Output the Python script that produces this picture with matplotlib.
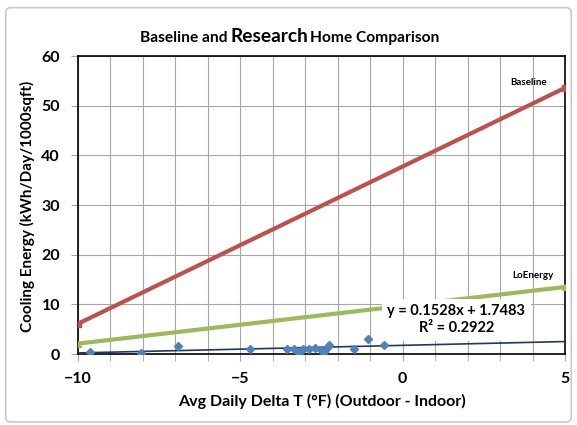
import matplotlib.pyplot as plt
from matplotlib.patches import FancyBboxPatch

plt.rcParams['font.family'] = ['Lato', 'DejaVu Sans']
plt.rcParams['font.weight'] = 'bold'

# measured research-home points
delta_t = [-9.63, -8.07, -6.92, -4.70, -3.57, -3.34, -3.19, -3.06, -2.88,
           -2.70, -2.52, -2.41, -2.34, -2.27, -1.49, -1.06, -0.57]
cooling = [0.4, 0.2, 1.7, 0.95, 1.1, 0.95, 0.15, 1.1, 1.0,
           1.2, 0.8, 0.4, 1.2, 1.8, 1.0, 3.1, 1.8]

# trend lines for the two modelled homes
line_x = [-10, 5]
baseline_y = [6.1, 53.6]
loenergy_y = [2.1, 13.5]

slope, intercept = 0.1528, 1.7483
fit_y = [slope * x + intercept for x in line_x]

fig = plt.figure(figsize=(5.77, 4.25), dpi=100)
ax = fig.add_axes([0.1352, 0.167, 0.844, 0.701])

frame = FancyBboxPatch((0.01, 0.007), 0.98, 0.975, boxstyle="round,pad=0,rounding_size=0.01",
                       transform=fig.transFigure, fill=False, edgecolor="#c8c8c8", linewidth=1.2)
fig.patches.append(frame)

ax.plot(line_x, baseline_y, color="#c0504d", lw=3, marker="s", ms=4, zorder=3)
ax.plot(line_x, loenergy_y, color="#9bbb59", lw=3, marker="^", ms=4, zorder=3)
ax.plot(line_x, fit_y, color="#1f3864", lw=1.2, zorder=3)
ax.plot(delta_t, cooling, linestyle="none", marker="D", ms=4.5, color="#4f81bd", zorder=4)

ax.set_xlim(-10, 5)
ax.set_ylim(0, 60)
ax.set_xticks([-10, -5, 0, 5])
ax.set_xticks(range(-10, 6), minor=True)
ax.set_yticks(range(0, 61, 10))
ax.grid(True, which="both", color="#a6a6a6", lw=0.8)
ax.tick_params(which="both", direction="out", length=5, color="#a6a6a6", labelsize=11.5, pad=8)
for s in ax.spines.values():
    s.set_color("black")
    s.set_linewidth(1.2)

ax.set_xlabel("Avg Daily Delta T (°F) (Outdoor - Indoor)", fontsize=11.5, fontweight="bold", labelpad=6)
ax.set_ylabel("Cooling Energy (kWh/Day/1000sqft)", fontsize=11, fontweight="bold")
ax.yaxis.set_label_coords(-0.088, 0.497)

ax.text(3.30, 54.6, "Baseline", fontsize=7, ha="left", va="center")
ax.text(3.39, 15.9, "LoEnergy", fontsize=7, ha="left", va="center")
ax.text(1.65, 6.9, "y = 0.1528x + 1.7483\nR² = 0.2922", fontsize=10.5, ha="center", va="center",
        linespacing=1.25, bbox=dict(facecolor="white", edgecolor="none", pad=4), zorder=5)

# title with a larger middle word
fig.text(0.2426, 0.902, "Baseline and", fontsize=11.2, fontweight="bold", ha="left", va="baseline")
fig.text(0.4003, 0.902, "Research", fontsize=13.8, fontweight="bold", ha="left", va="baseline")
fig.text(0.5373, 0.902, "Home Comparison", fontsize=11.2, fontweight="bold", ha="left", va="baseline")

fig.savefig("out.png", dpi=100)
